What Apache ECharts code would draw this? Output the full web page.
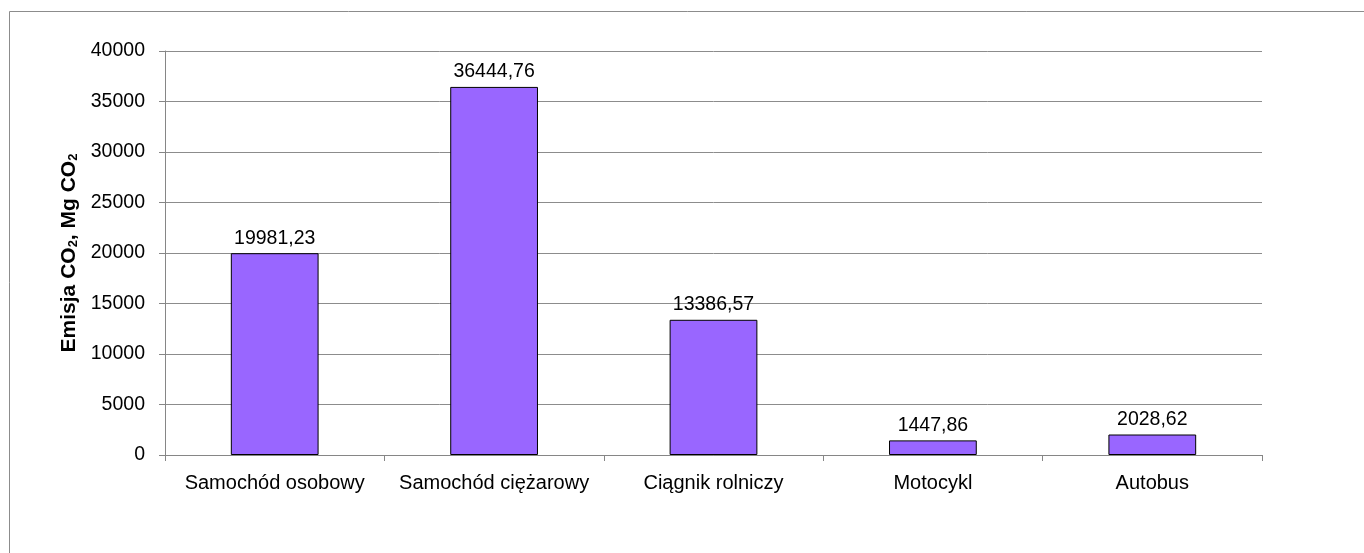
<!DOCTYPE html>
<html>
<head>
<meta charset="utf-8">
<script src="https://cdn.jsdelivr.net/npm/echarts@6/dist/echarts.min.js"></script>
<style>
  html, body { margin: 0; padding: 0; background: #fff; }
  #main { width: 1364px; height: 553px; }
</style>
</head>
<body>
<div id="main"></div>
<script>
// dane z wykresu
const categories = ['Samochód osobowy', 'Samochód ciężarowy', 'Ciągnik rolniczy', 'Motocykl', 'Autobus'];
const emissions = [19981.23, 36444.76, 13386.57, 1447.86, 2028.62];
const yMin = 0;
const yMax = 40000;
const yStep = 5000;

const chart = echarts.init(document.getElementById('main'));
const font = 'Arial, "Liberation Sans", sans-serif';

const option = {
  backgroundColor: '#fff',
  animation: false,
  graphic: [{
    type: 'rect',
    shape: { x: 9.5, y: 11.5, width: 1370, height: 560 },
    style: { fill: 'none', stroke: '#8c8c8c', lineWidth: 1 },
    silent: true
  }],
  grid: { left: 165, right: 102, top: 51, bottom: 98 },
  xAxis: {
    type: 'category',
    data: categories,
    axisLine: { lineStyle: { color: '#868686', width: 1 } },
    axisTick: { show: true, length: 6, interval: 0, alignWithLabel: false, lineStyle: { color: '#868686' } },
    axisLabel: { color: '#000', fontFamily: font, fontSize: 20, margin: 18, interval: 0 }
  },
  yAxis: {
    type: 'value',
    min: yMin,
    max: yMax,
    interval: yStep,
    name: '{b|Emisja CO}{s|2}{b|, Mg CO}{s|2}',
    nameLocation: 'middle',
    nameGap: 81,
    nameRotate: 90,
    nameTextStyle: {
      rich: {
        b: { fontFamily: font, fontSize: 21, fontWeight: 'bold', color: '#000' },
        s: { fontFamily: font, fontSize: 13, fontWeight: 'bold', color: '#000', verticalAlign: 'bottom', padding: [9, 0, 0, 0] }
      }
    },
    axisLine: { show: true, lineStyle: { color: '#868686', width: 1 } },
    axisTick: { show: true, length: 6, lineStyle: { color: '#868686' } },
    axisLabel: { color: '#000', fontFamily: font, fontSize: 19.5, margin: 20, formatter: (v) => String(v) },
    splitLine: { show: true, lineStyle: { color: '#8c8c8c', width: 1 } }
  },
  series: [{
    type: 'bar',
    data: emissions,
    barWidth: '40%',
    itemStyle: { color: '#9966FF', borderColor: '#000', borderWidth: 1 },
    label: {
      show: true,
      position: 'top',
      distance: 5,
      color: '#000',
      fontFamily: font,
      fontSize: 19.5,
      formatter: (p) => p.value.toFixed(2).replace('.', ',')
    }
  }]
};

chart.setOption(option);
</script>
</body>
</html>
